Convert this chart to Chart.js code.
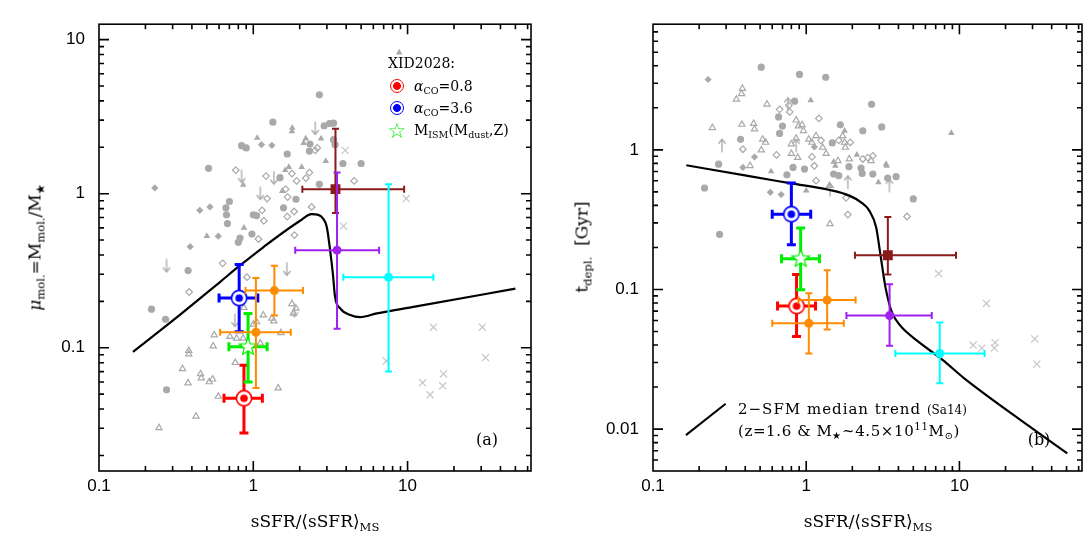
<!DOCTYPE html>
<html>
<head>
<meta charset="utf-8">
<script src="https://cdn.jsdelivr.net/npm/chart.js@4.4.1/dist/chart.umd.min.js"></script>
<style>
  html, body { margin: 0; padding: 0; background: #fff; }
  #wrap { position: relative; width: 1090px; height: 541px; overflow: hidden; font-family: 'DejaVu Serif', serif; color: #000; }
  canvas { position: absolute; top: 0; }
  .t { position: absolute; white-space: nowrap; line-height: 1; }
  .c { transform: translate(-50%, -50%); }
  .l { transform: translate(0, -50%); }
  .rot { transform: translate(-50%, -50%) rotate(-90deg); }
  sub { font-size: 68%; vertical-align: -0.35em; line-height: 0; }
  sup { font-size: 68%; vertical-align: 0.55em; line-height: 0; }
  .ax { font-size: 17px; }
  .lg { font-size: 14px; }
  .bull { position: absolute; width: 12px; height: 12px; border: 1.6px solid; border-radius: 50%;
          transform: translate(-50%, -50%); background: radial-gradient(circle, currentColor 0 3.6px, #fff 4.2px); }
</style>
</head>
<body>
<div id="wrap">
  <canvas id="pa" width="545" height="541" style="left:0"></canvas>
  <canvas id="pb" width="545" height="541" style="left:545px"></canvas>

  <!-- panel (a) text -->
  <div class="t ax rot" style="left:35px;top:247px"><i>μ</i><sub>mol.</sub>=M<sub>mol.</sub>/M<sub>★</sub></div>
  <div class="t ax c" style="left:315px;top:521px">sSFR/⟨sSFR⟩<sub>MS</sub></div>
  <div class="t lg l" style="left:388px;top:63px">XID2028:</div>
  <span class="bull" style="left:396.5px;top:86px;color:#ff0000"></span>
  <div class="t lg l" style="left:414px;top:86px"><i>α</i><sub>CO</sub>=0.8</div>
  <span class="bull" style="left:396.5px;top:108px;color:#0000ff"></span>
  <div class="t lg l" style="left:414px;top:108px"><i>α</i><sub>CO</sub>=3.6</div>
  <div class="t c" style="left:397px;top:131px;font:21px 'DejaVu Sans';color:#00ee00">☆</div>
  <div class="t lg l" style="left:414px;top:130px">M<sub>ISM</sub>(M<sub>dust</sub>,Z)</div>
  <div class="t c" style="left:487px;top:440px;font-size:16px">(a)</div>

  <!-- panel (b) text -->
  <div class="t ax rot" style="left:582px;top:247px">t<sub>depl.</sub>&nbsp;&nbsp;[Gyr]</div>
  <div class="t ax c" style="left:868px;top:521px">sSFR/⟨sSFR⟩<sub>MS</sub></div>
  <div class="t l" style="left:738px;top:409px;font-size:15px;letter-spacing:1px">2−SFM median trend <span style="font-size:12px;letter-spacing:0">(Sa14)</span></div>
  <div class="t l" style="left:738px;top:431px;font-size:15px;letter-spacing:0.6px">(z=1.6 &amp; M<sub>★</sub>~4.5×10<sup>11</sup>M<sub>⊙</sub>)</div>
  <div class="t c" style="left:1039px;top:440px;font-size:16px">(b)</div>
</div>

<script>
/* ─── Axes ───────────────────────────────────────────────────────────────── */
const X_MIN = 0.1, X_MAX = 63.1;
const A_Y_MIN = 0.01585, A_Y_MAX = 12.59;
const B_Y_MIN = 0.00501, B_Y_MAX = 7.94;
const X_TICKS   = [0.1, 1, 10];
const A_Y_TICKS = [0.1, 1, 10];
const B_Y_TICKS = [0.01, 0.1, 1];

/* ─── Panel (a): mu_mol vs sSFR/sSFR_MS ──────────────────────────────────── */
const A_CIRCLE = [[2.68,4.38],[1.34,2.91],[2.88,2.76],[3.12,2.85],[3.31,2.87],[0.84,2.05],[0.90,1.98],
  [3.31,2.24],[3.39,2.08],[2.33,2.10],[2.31,1.89],[1.66,1.81],[3.81,1.57],[5.00,1.57],[0.513,1.46],
  [1.49,1.27],[2.68,1.15],[1.89,0.92],[0.70,0.89],[0.665,0.81],[1.57,0.81],[0.67,0.73],[1.0,0.73],
  [1.05,0.72],[0.68,0.64],[0.98,0.547],[0.82,0.515],[0.80,0.483],[0.378,0.317],[0.219,0.178],
  [0.27,0.153],[0.274,0.0533]];
const A_TRI = [[1.79,2.67],[1.78,2.54],[1.06,2.30],[2.19,2.28],[2.12,2.13],[2.75,2.28],[2.95,1.63],
  [2.06,1.49],[1.70,1.49],[1.61,1.42],[0.86,1.14],[1.54,1.04],[0.87,0.60],[0.50,0.53],[8.83,8.24]];
const A_DIAM = [[1.13,2.08],[1.32,2.06],[0.23,1.09],[0.524,0.82],[0.45,0.78],[0.593,0.53],[0.39,0.453]];
const A_ODIAM = [[0.77,1.42],[1.21,1.30],[1.78,1.35],[1.91,1.21],[2.19,1.26],[2.31,1.37],[2.52,1.91],
  [2.60,1.98],[1.62,1.07],[1.67,0.95],[1.23,0.93],[2.39,0.82],[1.14,0.78],[1.17,0.667],[1.66,0.71],
  [1.84,0.766],[1.08,0.508],[1.85,0.539],[0.633,0.353],[0.91,0.287],[0.384,0.23],[4.51,1.21]];
const A_OTRI = [[0.87,0.182],[1.16,0.163],[1.32,0.155],[1.36,0.149],[1.78,0.193],[1.89,0.18],[1.82,0.167],
  [1.0,0.142],[0.558,0.121],[0.706,0.118],[0.78,0.115],[0.86,0.115],[1.05,0.147],[1.51,0.125],
  [0.55,0.1025],[1.11,0.107],[0.382,0.0957],[0.382,0.091],[0.348,0.073],[0.764,0.080],[0.455,0.0676],
  [0.46,0.0635],[0.518,0.060],[0.545,0.0625],[0.378,0.0589],[0.593,0.0483],[1.45,0.0547],
  [0.425,0.0359],[0.245,0.0302]];
const A_LIMIT = [[2.52,2.67],[0.84,1.30],[1.36,1.27],[1.11,1.01],[0.274,0.342],[1.65,0.325],[0.76,0.151],[1.85,0.175]];
const A_CROSS = [[3.94,1.91],[9.81,0.93],[3.84,0.616],[14.7,0.136],[30.5,0.136],[7.27,0.082],[32.0,0.0864],
  [17.1,0.0676],[12.5,0.0592],[14.0,0.0495],[16.9,0.0566]];

// [x, xlo, xhi, y, ylo, yhi]
const A_RED     = [[0.87, 0.646, 1.145, 0.047, 0.028, 0.077]];
const A_BLUE    = [[0.81, 0.60, 1.07, 0.21, 0.127, 0.347]];
const A_GREEN   = [[0.925, 0.695, 1.23, 0.1015, 0.060, 0.167]];
const A_ORANGE  = [[1.37, 0.89, 2.10, 0.235, 0.162, 0.341], [1.04, 0.61, 1.75, 0.126, 0.0547, 0.284]];
const A_PURPLE  = [[3.49, 1.87, 6.54, 0.43, 0.133, 1.37]];
const A_DARKRED = [[3.41, 2.08, 9.5, 1.07, 0.75, 2.64]];
const A_CYAN    = [[7.53, 3.83, 14.7, 0.287, 0.070, 1.15]];

const A_TREND_X = [0.166, 0.303, 0.608, 0.82, 1.16, 2.01, 2.39, 2.64, 2.85, 3.00, 3.15, 3.28, 3.39, 3.66, 4.25, 4.93, 6.33, 10.9, 50];
const A_TREND_Y = [0.094, 0.151, 0.267, 0.342, 0.449, 0.667, 0.736, 0.729, 0.684, 0.604, 0.427, 0.302, 0.213, 0.18, 0.163, 0.158, 0.167, 0.184, 0.242];

/* ─── Panel (b): t_depl vs sSFR/sSFR_MS ──────────────────────────────────── */
const B_CIRCLE = [[0.509,3.91],[0.904,3.47],[1.34,3.31],[0.84,2.23],[2.67,2.12],[0.66,1.72],[0.70,1.48],
  [0.67,1.31],[1.67,1.51],[2.34,1.37],[3.11,1.46],[0.373,1.19],[1.48,1.12],[0.268,0.79],[0.82,0.748],
  [0.975,0.728],[1.90,0.757],[0.217,0.533],[0.748,0.663],[1.51,0.671],[1.63,0.653],[2.28,0.741],
  [2.32,0.678],[2.72,0.671],[3.40,0.628],[3.86,0.642],[5.00,0.445],[0.272,0.248]];
const B_DIAM = [[0.229,3.19],[0.46,0.89],[1.13,1.05],[0.386,0.748],[0.583,0.496],[0.687,0.478]];
const B_TRI = [[1.07,2.26],[1.78,1.37],[2.14,0.92],[1.51,0.82],[3.32,0.79],[0.59,0.70],[1.0,0.51],
  [2.96,0.585],[3.35,0.769],[1.55,0.769],[8.85,1.32]];
const B_OTRI = [[0.383,2.75],[0.379,2.52],[0.35,2.30],[0.554,2.12],[0.244,1.44],[0.38,1.52],[0.454,1.54],
  [0.46,1.41],[0.86,1.63],[0.89,1.48],[0.94,1.51],[0.96,1.37],[0.52,1.19],[0.543,1.13],[0.509,0.995],
  [0.80,1.10],[0.86,1.21],[0.80,0.94],[1.04,1.19],[1.16,1.26],[1.09,1.13],[1.28,1.04],[1.35,0.94],
  [1.78,1.13],[1.80,1.04],[1.73,1.26],[0.43,0.769],[0.88,0.88],[1.61,0.835],[1.91,0.86],[2.65,0.835],
  [1.43,0.295],[1.42,0.554]];
const B_ODIAM = [[0.67,1.95],[0.78,1.87],[0.77,2.08],[1.21,1.68],[0.386,1.01],[0.64,0.92],[1.25,1.17],
  [1.09,0.89],[1.63,1.17],[1.94,1.13],[2.34,0.86],[2.52,0.88],[2.72,0.906],[1.13,0.769],[1.16,0.601],
  [1.82,0.453],[1.87,0.344],[4.55,0.333]];
const B_LIMIT = [[0.282,1.07],[0.86,1.07],[0.76,2.12],[1.87,0.585],[3.49,0.554],[1.43,0.516]];
const B_CROSS = [[7.31,0.130],[15.0,0.0794],[12.3,0.040],[14.0,0.038],[17.1,0.0416],[16.9,0.038],[31.0,0.0442],[32.0,0.0292]];

const B_RED     = [[0.865, 0.65, 1.15, 0.076, 0.046, 0.128]];
const B_BLUE    = [[0.80, 0.60, 1.07, 0.346, 0.209, 0.579]];
const B_GREEN   = [[0.92, 0.69, 1.22, 0.166, 0.0995, 0.275]];
const B_ORANGE  = [[1.37, 0.89, 2.10, 0.084, 0.0516, 0.137], [1.04, 0.60, 1.76, 0.0573, 0.0348, 0.094]];
const B_PURPLE  = [[3.50, 1.83, 6.6, 0.065, 0.0395, 0.109]];
const B_DARKRED = [[3.41, 2.08, 9.5, 0.176, 0.128, 0.33]];
const B_CYAN    = [[7.44, 3.82, 14.6, 0.0348, 0.0213, 0.058]];

const B_TREND_X = [0.165, 0.407, 0.80, 1.42, 1.91, 2.28, 2.58, 2.86, 3.00, 3.16, 3.29, 3.58, 3.86, 4.26, 5.21, 7.76, 10.7, 28.5, 50.6];
const B_TREND_Y = [0.776, 0.653, 0.575, 0.516, 0.470, 0.421, 0.367, 0.279, 0.201, 0.137, 0.104, 0.0712, 0.0604, 0.0527, 0.0435, 0.0313, 0.0232, 0.0105, 0.0067];
const B_KEY_X = [0.164, 0.298];
const B_KEY_Y = [0.00905, 0.0152];

/* ─── Styles ─────────────────────────────────────────────────────────────── */
const GRAY = '#a9a9a9';
const LIGHT = '#c6c6c6';
const C = { red: '#ff0000', blue: '#0000ff', green: '#00ee00', orange: '#ff8c00',
            purple: '#a020f0', darkred: '#8b1a1a', cyan: '#00ffff' };

function marker(size, draw) {
  const c = document.createElement('canvas');
  c.width = c.height = size;
  draw(c.getContext('2d'), size / 2);
  return c;
}
const bullseye = col => marker(20, (g, m) => {
  g.fillStyle = '#fff'; g.strokeStyle = col; g.lineWidth = 1.6;
  g.beginPath(); g.arc(m, m, 7.6, 0, 2 * Math.PI); g.fill(); g.stroke();
  g.fillStyle = col; g.beginPath(); g.arc(m, m, 3.8, 0, 2 * Math.PI); g.fill();
});
const openStar = col => marker(24, (g, m) => {
  g.beginPath();
  for (let i = 0; i < 10; i++) {
    const r = i % 2 ? 3.9 : 9.2, a = -Math.PI / 2 + i * Math.PI / 5;
    g.lineTo(m + r * Math.cos(a), m + r * Math.sin(a));
  }
  g.closePath(); g.fillStyle = '#fff'; g.fill();
  g.strokeStyle = col; g.lineWidth = 1.2; g.stroke();
});
const limitArrow = dir => marker(18, (g, m) => {   // dir 1 = down, -1 = up
  g.strokeStyle = GRAY; g.lineWidth = 1.3;
  const y0 = m - 6.5 * dir, y1 = m + 6.5 * dir;
  g.beginPath();
  g.moveTo(m, y0); g.lineTo(m, y1);
  g.moveTo(m - 3.6, y1 - 4.5 * dir); g.lineTo(m, y1); g.lineTo(m + 3.6, y1 - 4.5 * dir);
  g.stroke();
});

/* ─── Dataset builders ───────────────────────────────────────────────────── */
const xy = rows => rows.map(([x, y]) => ({ x, y }));
const pt = r => ({ x: r[0], xMin: r[1], xMax: r[2], y: r[3], yMin: r[4], yMax: r[5] });
const line = (xs, ys, w) => ({ data: xs.map((x, i) => ({ x, y: ys[i] })), showLine: true, pointRadius: 0,
  borderColor: '#000', borderWidth: w, cubicInterpolationMode: 'monotone', order: 5 });

function grayPts(rows, style, filled, radius, col = GRAY) {
  return { data: xy(rows), pointStyle: style, pointRadius: radius,
    backgroundColor: filled ? col : 'rgba(0,0,0,0)', borderColor: col,
    borderWidth: filled ? 0 : 1.2, order: 10 };
}
function measured(rows, col, style, radius, lw, cap) {
  return { data: rows.map(pt), pointStyle: style, pointRadius: radius,
    backgroundColor: col, borderColor: col, borderWidth: 0, errW: lw, errCap: cap, order: 1 };
}

function panelSets(p) {
  return [
    grayPts(p.cross, 'crossRot', false, 5, LIGHT),
    grayPts(p.circle, 'circle', true, 3.6),
    grayPts(p.tri, 'triangle', true, 3.8),
    grayPts(p.diam, 'rectRot', true, 3.6),
    grayPts(p.otri, 'triangle', false, 3.6),
    grayPts(p.odiam, 'rectRot', false, 3.3),
    { ...grayPts(p.limit, limitArrow(p.dir), false, 6) },
    line(p.tx, p.ty, 2.2),
    measured(p.orange, C.orange, 'circle', 4.5, 2, 3.5),
    measured(p.cyan, C.cyan, 'circle', 4.5, 2, 3.5),
    measured(p.purple, C.purple, 'circle', 4.5, 2, 3.5),
    measured(p.darkred, C.darkred, 'rect', 7, 2, 3.5),
    measured(p.green, C.green, openStar(C.green), 8, 3, 4.5),
    measured(p.blue, C.blue, bullseye(C.blue), 8, 3, 4.5),
    measured(p.red, C.red, bullseye(C.red), 8, 3, 4.5)
  ];
}

/* ─── Plugins: error bars, framed inward log ticks ───────────────────────── */
const errorBars = {
  id: 'errorBars',
  beforeDatasetDraw(chart, args) {
    const ds = chart.data.datasets[args.index];
    if (!ds.errW) return;
    const { ctx, scales: { x, y } } = chart;
    const k = ds.errCap;
    ctx.save();
    ctx.strokeStyle = ds.borderColor; ctx.lineWidth = ds.errW;
    ds.data.forEach(p => {
      const px = x.getPixelForValue(p.x), py = y.getPixelForValue(p.y);
      const x0 = x.getPixelForValue(p.xMin), x1 = x.getPixelForValue(p.xMax);
      const y0 = y.getPixelForValue(p.yMin), y1 = y.getPixelForValue(p.yMax);
      ctx.beginPath();
      ctx.moveTo(x0, py); ctx.lineTo(x1, py);
      ctx.moveTo(px, y0); ctx.lineTo(px, y1);
      ctx.moveTo(x0, py - k); ctx.lineTo(x0, py + k);
      ctx.moveTo(x1, py - k); ctx.lineTo(x1, py + k);
      ctx.moveTo(px - k, y0); ctx.lineTo(px + k, y0);
      ctx.moveTo(px - k, y1); ctx.lineTo(px + k, y1);
      ctx.stroke();
    });
    ctx.restore();
  }
};

function logTicks(s) {
  const out = [];
  for (let e = Math.floor(Math.log10(s.min)); e <= Math.ceil(Math.log10(s.max)); e++) {
    for (let m = 1; m < 10; m++) {
      const v = m * Math.pow(10, e);
      if (v > s.min * 1.001 && v < s.max * 0.999) out.push([v, m === 1]);
    }
  }
  return out;
}

const frame = {
  id: 'frame',
  afterDatasetsDraw(chart) {
    const { ctx, chartArea: a, scales: { x, y } } = chart;
    ctx.save();
    ctx.strokeStyle = '#000'; ctx.lineWidth = 1.6;
    ctx.strokeRect(a.left, a.top, a.width, a.height);
    ctx.beginPath();
    logTicks(x).forEach(([v, major]) => {
      const p = x.getPixelForValue(v), L = major ? 10 : 5;
      ctx.moveTo(p, a.bottom); ctx.lineTo(p, a.bottom - L);
      ctx.moveTo(p, a.top);    ctx.lineTo(p, a.top + L);
    });
    logTicks(y).forEach(([v, major]) => {
      const p = y.getPixelForValue(v), L = major ? 10 : 5;
      ctx.moveTo(a.left, p);  ctx.lineTo(a.left + L, p);
      ctx.moveTo(a.right, p); ctx.lineTo(a.right - L, p);
    });
    ctx.stroke();
    ctx.restore();
  }
};

/* ─── Render ─────────────────────────────────────────────────────────────── */
function axis(min, max, ticks, fit) {
  return {
    type: 'logarithmic', min, max,
    afterBuildTicks: s => { s.ticks = ticks.map(v => ({ value: v })); },
    afterFit: fit,
    grid: { display: false, drawTicks: false },
    border: { display: false },
    ticks: { color: '#000', font: { family: 'Liberation Sans', size: 17 }, padding: 14,
             maxRotation: 0, autoSkip: false, callback: v => String(v) }
  };
}

function makeChart(id, sets, yMin, yMax, yTicks, yWidth, padRight) {
  const x = axis(X_MIN, X_MAX, X_TICKS, s => { s.height = 70; });
  x.ticks.padding = 5;
  new Chart(document.getElementById(id), {
    type: 'scatter',
    data: { datasets: sets },
    options: {
      responsive: false, animation: false, events: [],
      layout: { padding: { top: 23, right: padRight, left: 0, bottom: 0 } },
      plugins: { legend: { display: false }, tooltip: { enabled: false } },
      scales: { x, y: axis(yMin, yMax, yTicks, s => { s.width = yWidth; }) }
    },
    plugins: [errorBars, frame]
  });
}

makeChart('pa', panelSets({
  circle: A_CIRCLE, tri: A_TRI, diam: A_DIAM, odiam: A_ODIAM, otri: A_OTRI, limit: A_LIMIT, dir: 1,
  cross: A_CROSS, tx: A_TREND_X, ty: A_TREND_Y, red: A_RED, blue: A_BLUE, green: A_GREEN,
  orange: A_ORANGE, purple: A_PURPLE, darkred: A_DARKRED, cyan: A_CYAN
}), A_Y_MIN, A_Y_MAX, A_Y_TICKS, 99, 14);

const bSets = panelSets({
  circle: B_CIRCLE, tri: B_TRI, diam: B_DIAM, odiam: B_ODIAM, otri: B_OTRI, limit: B_LIMIT, dir: -1,
  cross: B_CROSS, tx: B_TREND_X, ty: B_TREND_Y, red: B_RED, blue: B_BLUE, green: B_GREEN,
  orange: B_ORANGE, purple: B_PURPLE, darkred: B_DARKRED, cyan: B_CYAN
});
bSets.push({ ...line(B_KEY_X, B_KEY_Y, 2), cubicInterpolationMode: 'default' });
makeChart('pb', bSets, B_Y_MIN, B_Y_MAX, B_Y_TICKS, 108, 7);
</script>
</body>
</html>
